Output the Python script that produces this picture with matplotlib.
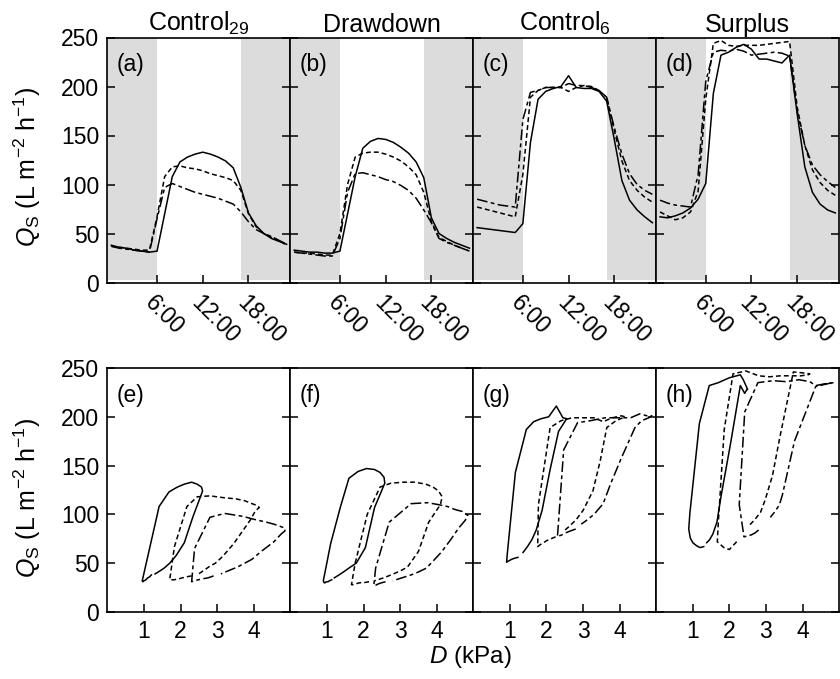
import numpy as np
import matplotlib
matplotlib.use('Agg')
import matplotlib.pyplot as plt

plt.rcParams['font.family'] = ['Liberation Sans', 'DejaVu Sans']
plt.rcParams['mathtext.fontset'] = 'custom'
plt.rcParams['mathtext.rm'] = 'Liberation Sans'
plt.rcParams['mathtext.it'] = 'Liberation Sans:italic'

hours = list(range(24))
titles = [r'Control$_{29}$', 'Drawdown', r'Control$_{6}$', 'Surplus']
top_labels = ['(a)', '(b)', '(c)', '(d)']
bot_labels = ['(e)', '(f)', '(g)', '(h)']
time_ticks = [6, 12, 18]
time_ticklabels = ['6:00', '12:00', '18:00']
d_ticks = [1, 2, 3, 4]

# sap flux Qs per hour (solid, short dash, dash-dot)
qa_solid = [38, 36, 35, 33, 32, 31, 32, 70, 108, 123, 128, 131, 133, 131, 128, 124, 117, 97, 71, 58, 50, 45, 42, 39]
qa_dash = [37, 36, 35, 34, 33, 33, 67, 108, 118, 119, 117, 116, 114, 111, 109, 107, 104, 94, 70, 57, 50, 47, 43, 38]
qa_dd = [37, 35, 34, 33, 32, 31, 65, 97, 101, 98, 95, 92, 90, 88, 86, 83, 80, 72, 62, 54, 50, 46, 43, 39]

qb_solid = [33, 32, 31, 31, 30, 30, 32, 70, 108, 137, 144, 147, 146, 143, 138, 132, 123, 107, 66, 50, 45, 41, 38, 35]
qb_dash = [31, 30, 30, 29, 28, 28, 50, 100, 128, 132, 133, 133, 131, 128, 124, 118, 110, 92, 62, 46, 42, 38, 35, 32]
qb_dd = [31, 30, 29, 28, 27, 27, 45, 92, 111, 112, 110, 108, 105, 103, 99, 94, 86, 74, 61, 45, 41, 38, 35, 32]

qc_solid = [56, 55, 54, 53, 52, 51, 60, 143, 187, 195, 198, 200, 211, 199, 198, 198, 195, 185, 146, 104, 84, 74, 67, 61]
qc_dash = [77, 75, 73, 71, 69, 67, 110, 189, 196, 199, 199, 199, 195, 199, 201, 200, 196, 189, 155, 124, 104, 94, 87, 82]
qc_dd = [85, 83, 81, 79, 78, 77, 166, 194, 196, 199, 199, 199, 203, 201, 201, 199, 196, 189, 158, 131, 111, 100, 94, 90]

qd_solid = [67, 66, 68, 71, 76, 85, 101, 193, 232, 235, 240, 243, 238, 228, 228, 226, 224, 232, 172, 118, 92, 80, 74, 71]
qd_dash = [72, 68, 64, 66, 72, 93, 187, 244, 247, 242, 241, 242, 242, 242, 243, 244, 245, 246, 179, 140, 115, 102, 94, 89]
qd_dd = [84, 81, 79, 78, 77, 110, 205, 235, 237, 236, 238, 236, 232, 233, 234, 235, 234, 231, 175, 140, 120, 110, 103, 97]

# vapour pressure deficit D (kPa) per hour
de_solid = [1.2, 1.15, 1.1, 1.05, 1.0, 0.96, 0.95, 1.18, 1.41, 1.68, 1.91, 2.1, 2.3, 2.45, 2.57, 2.6, 2.53, 2.33, 2.1, 1.88, 1.7, 1.55, 1.43, 1.3]
de_dash = [2.3, 2.15, 2.05, 1.95, 1.82, 1.7, 1.83, 2.17, 2.45, 2.8, 3.2, 3.5, 3.75, 3.95, 4.1, 4.15, 4.05, 3.9, 3.45, 3.15, 2.95, 2.8, 2.65, 2.45]
de_dd = [2.9, 2.75, 2.6, 2.48, 2.38, 2.3, 2.38, 2.8, 3.2, 3.7, 4.0, 4.35, 4.55, 4.7, 4.85, 4.85, 4.75, 4.55, 4.2, 3.95, 3.75, 3.55, 3.35, 3.1]

df_solid = [1.13, 1.07, 1.03, 0.98, 0.95, 0.92, 0.9, 1.1, 1.37, 1.6, 1.85, 2.08, 2.3, 2.45, 2.56, 2.58, 2.48, 2.3, 2.05, 1.8, 1.6, 1.45, 1.33, 1.2]
df_dash = [2.15, 2.0, 1.9, 1.8, 1.72, 1.67, 1.77, 2.1, 2.45, 2.75, 3.1, 3.4, 3.7, 3.9, 4.05, 4.15, 4.1, 3.78, 3.5, 3.2, 3.0, 2.75, 2.55, 2.3]
df_dd = [2.6, 2.5, 2.42, 2.36, 2.32, 2.28, 2.33, 2.7, 3.3, 3.75, 4.05, 4.3, 4.5, 4.7, 4.85, 4.78, 4.6, 4.38, 4.12, 3.72, 3.5, 3.3, 3.05, 2.8]

dg_solid = [1.22, 1.12, 1.05, 1.0, 0.95, 0.91, 0.93, 1.15, 1.45, 1.65, 1.85, 2.06, 2.27, 2.45, 2.56, 2.55, 2.5, 2.33, 2.1, 1.88, 1.72, 1.6, 1.48, 1.36]
dg_dash = [2.25, 2.12, 2.0, 1.92, 1.83, 1.76, 1.78, 2.1, 2.4, 2.7, 3.0, 3.3, 3.55, 3.8, 4.05, 4.15, 3.9, 3.65, 3.47, 3.27, 3.0, 2.8, 2.6, 2.45]
dg_dd = [2.8, 2.65, 2.52, 2.42, 2.35, 2.3, 2.47, 2.85, 3.2, 3.6, 4.0, 4.3, 4.55, 4.75, 4.88, 4.8, 4.6, 4.42, 4.05, 3.75, 3.55, 3.3, 3.1, 2.95]

dh_solid = [1.3, 1.2, 1.1, 1.0, 0.93, 0.89, 0.92, 1.18, 1.45, 1.7, 2.0, 2.3, 2.38, 2.5, 2.48, 2.45, 2.42, 2.3, 2.03, 1.77, 1.66, 1.55, 1.46, 1.38]
dh_dash = [2.2, 2.1, 2.0, 1.85, 1.67, 1.7, 1.86, 2.1, 2.45, 2.8, 3.1, 3.4, 3.7, 3.95, 4.15, 4.2, 4.0, 3.75, 3.38, 3.18, 2.98, 2.85, 2.68, 2.55]
dh_dd = [2.8, 2.7, 2.6, 2.5, 2.4, 2.27, 2.42, 2.78, 3.2, 3.55, 3.9, 4.2, 4.36, 4.5, 4.64, 4.86, 4.7, 4.36, 3.78, 3.57, 3.45, 3.37, 3.25, 3.12]

q_all = [[qa_solid, qa_dash, qa_dd], [qb_solid, qb_dash, qb_dd],
         [qc_solid, qc_dash, qc_dd], [qd_solid, qd_dash, qd_dd]]
d_all = [[de_solid, de_dash, de_dd], [df_solid, df_dash, df_dd],
         [dg_solid, dg_dash, dg_dd], [dh_solid, dh_dash, dh_dd]]
styles = ['-', (0, (3.2, 2.0)), (0, (7.0, 2.2, 2.5, 2.2))]

ylab = r'$Q_{\mathrm{S}}$ (L m$^{-2}$ h$^{-1}$)'

fig = plt.figure(figsize=(8.4, 6.79), dpi=100)
W, H = 840.0, 679.0
x0 = 107.5
pw = 182.9


def style_axes(ax, i):
    ax.set_ylim(0, 250)
    ax.set_yticks([0, 50, 100, 150, 200, 250])
    ax.tick_params(direction='in', length=6, width=1.1, left=True, right=True,
                   top=False, labelsize=16.5, pad=6)
    if i > 0:
        ax.tick_params(labelleft=False)
    for s in ax.spines.values():
        s.set_linewidth(1.2)


for i in range(4):
    # diurnal course
    ax = fig.add_axes([(x0 + i * pw) / W, 1 - 282.5 / H, pw / W, 245 / H])
    ax.axvspan(-0.5, 6, ymin=0.012, color='#dcdcdc', lw=0)
    ax.axvspan(17, 23.5, ymin=0.012, color='#dcdcdc', lw=0)
    for q, ls in zip(q_all[i], styles):
        ax.plot(hours, q, color='black', lw=1.1, linestyle=ls)
    ax.set_xlim(-0.5, 23.5)
    style_axes(ax, i)
    ax.set_xticks(time_ticks)
    ax.set_xticklabels(time_ticklabels)
    plt.setp(ax.get_xticklabels(), rotation=-45, ha='left', va='top',
             rotation_mode='anchor')
    ax.set_title(titles[i], fontsize=18, pad=4)
    ax.text(0.05, 0.935, top_labels[i], transform=ax.transAxes, fontsize=16.5,
            va='top', ha='left')
    if i == 0:
        ax.set_ylabel(ylab, fontsize=18)
        ax.yaxis.set_label_coords(-0.35, 0.47)

    # Qs vs D
    ax2 = fig.add_axes([(x0 + i * pw) / W, 1 - 612 / H, pw / W, 244 / H])
    for d, q, ls in zip(d_all[i], q_all[i], styles):
        ax2.plot(d, q, color='black', lw=1.1, linestyle=ls)
    ax2.set_xlim(0, 5)
    style_axes(ax2, i)
    ax2.set_xticks(d_ticks)
    ax2.text(0.05, 0.935, bot_labels[i], transform=ax2.transAxes, fontsize=16.5,
             va='top', ha='left')
    if i == 0:
        ax2.set_ylabel(ylab, fontsize=18)
        ax2.yaxis.set_label_coords(-0.35, 0.467)

fig.text(470 / W, 1 - 657 / H, r'$D$ (kPa)', fontsize=17.5, ha='center', va='center')

fig.savefig('out.png', dpi=100)
